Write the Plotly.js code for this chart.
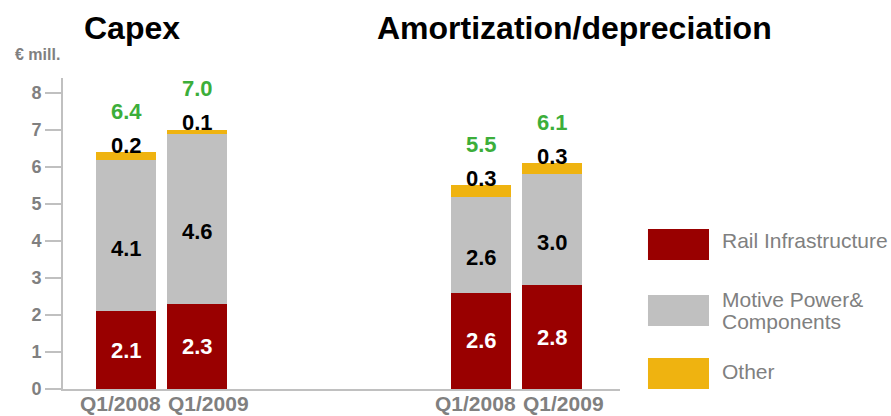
<!DOCTYPE html>
<html>
<head>
<meta charset="utf-8">
<script src="https://cdn.plot.ly/plotly-3.0.1.min.js"></script>
<style>
html,body{margin:0;padding:0;background:#fff;}
#chart{width:891px;height:416px;}
</style>
</head>
<body>
<div id="chart"></div>
<script>
// ---- data ----
const groups = ["Capex", "Amortization/depreciation"];
const periods = ["Q1/2008", "Q1/2009"];
const seriesNames = ["Rail Infrastructure", "Motive Power&<br>Components", "Other"];
// order: Capex Q1/2008, Capex Q1/2009, Amort Q1/2008, Amort Q1/2009
const railInfrastructure = [2.1, 2.3, 2.6, 2.8];
const motivePower = [4.1, 4.6, 2.6, 3.0];
const other = [0.2, 0.1, 0.3, 0.3];
const totals = [6.4, 7.0, 5.5, 6.1];
const yTicks = [0, 1, 2, 3, 4, 5, 6, 7, 8];
const unitLabel = "€ mill.";

// ---- layout helpers ----
const FONT = '"Liberation Sans", Arial, sans-serif';
const colors = ["#990000", "#c0c0c0", "#efb310"];
const groupStart = [0, 5];
const periodLabelShift = [-6, 11];
const xs = [];
const xLabels = [];
const xLabelShift = [];
groups.forEach((g, gi) => periods.forEach((p, pi) => {
  xs.push(groupStart[gi] + pi); xLabels.push(p); xLabelShift.push(periodLabelShift[pi]);
}));

const series = [railInfrastructure, motivePower, other];
const traces = series.map((vals, si) => ({
  type: "bar",
  x: xs,
  y: vals,
  name: seriesNames[si],
  marker: {color: colors[si], line: {width: 0}},
  width: 0.845,
  hoverinfo: "skip",
  showlegend: false
}));

const annotations = [];
xs.forEach((x, i) => {
  const r = railInfrastructure[i], m = motivePower[i];
  annotations.push({x: x, y: r / 2, xref: "x", yref: "y", text: r.toFixed(1), showarrow: false,
    font: {family: FONT, size: 22, color: "#ffffff", weight: "bold"}, yanchor: "middle"});
  annotations.push({x: x, y: r + m / 2, xref: "x", yref: "y", text: m.toFixed(1), showarrow: false,
    font: {family: FONT, size: 22, color: "#000000", weight: "bold"}, yanchor: "middle", yshift: -13});
  const tot = r + m + other[i];
  annotations.push({x: x, y: tot, xref: "x", yref: "y", text: other[i].toFixed(1), showarrow: false,
    font: {family: FONT, size: 22, color: "#000000", weight: "bold"}, yanchor: "middle", yshift: 7});
  annotations.push({x: x, y: tot, xref: "x", yref: "y", text: totals[i].toFixed(1), showarrow: false,
    font: {family: FONT, size: 22, color: "#3cae3a", weight: "bold"}, yanchor: "middle", yshift: 41});
  // category label under the axis
  annotations.push({x: x, y: 0, xref: "x", yref: "paper", text: xLabels[i], showarrow: false,
    xshift: xLabelShift[i], yshift: -1, yanchor: "top",
    font: {family: FONT, size: 21, color: "#808080", weight: "bold"}});
});

// group titles
const titleX = [0.0229, 0.3768];
groups.forEach((g, gi) => annotations.push({x: titleX[gi], y: 1.161, xref: "paper", yref: "paper",
  text: g, showarrow: false, xanchor: "left", yanchor: "middle",
  font: {family: FONT, size: 32, color: "#000000", weight: "bold"}}));

annotations.push({x: -0.0600, y: 1.074, xref: "paper", yref: "paper", text: unitLabel, showarrow: false,
  xanchor: "left", yanchor: "middle", font: {family: FONT, size: 16, color: "#808080", weight: "bold"}});

// legend (drawn manually to get large swatches)
const shapes = [];
const legBoxes = [[0.4148, 0.5145], [0.2026, 0.3023], [0.0, 0.0997]];
const legTextY = [[0.479], [0.2862, 0.2164], [0.0556]];
seriesNames.forEach((n, si) => {
  shapes.push({type: "rect", xref: "paper", yref: "paper", x0: 0.7065, x1: 0.7802,
    y0: legBoxes[si][0], y1: legBoxes[si][1], fillcolor: colors[si], line: {width: 0}});
  n.split("<br>").forEach((line, li) => annotations.push({x: 0.7935, y: legTextY[si][li], xref: "paper", yref: "paper",
    text: line, showarrow: false, xanchor: "left", yanchor: "middle",
    font: {family: FONT, size: 21, color: "#808080"}}));
});

const layout = {
  width: 891, height: 416,
  margin: {l: 63, r: 0, t: 78, b: 27, pad: 0},
  paper_bgcolor: "#ffffff", plot_bgcolor: "#ffffff",
  barmode: "stack",
  bargap: 0,
  showlegend: false,
  font: {family: FONT},
  xaxis: {
    domain: [0, 0.6727],
    range: [-0.893, 6.952],
    showticklabels: false,
    showgrid: false, zeroline: false,
    showline: true, linecolor: "#c0c0c0", linewidth: 2,
    ticks: "",
    fixedrange: true
  },
  yaxis: {
    range: [0, 8.405],
    tickmode: "array", tickvals: yTicks, ticktext: yTicks.map(String),
    showgrid: false, zeroline: false,
    showline: true, linecolor: "#c0c0c0", linewidth: 2,
    ticks: "outside", ticklen: 16, tickwidth: 1.5, tickcolor: "#c0c0c0",
    tickfont: {family: FONT, size: 18, color: "#808080", weight: "bold"},
    fixedrange: true
  },
  annotations: annotations,
  shapes: shapes
};

Plotly.newPlot("chart", traces, layout, {staticPlot: true, displayModeBar: false});
</script>
</body>
</html>
